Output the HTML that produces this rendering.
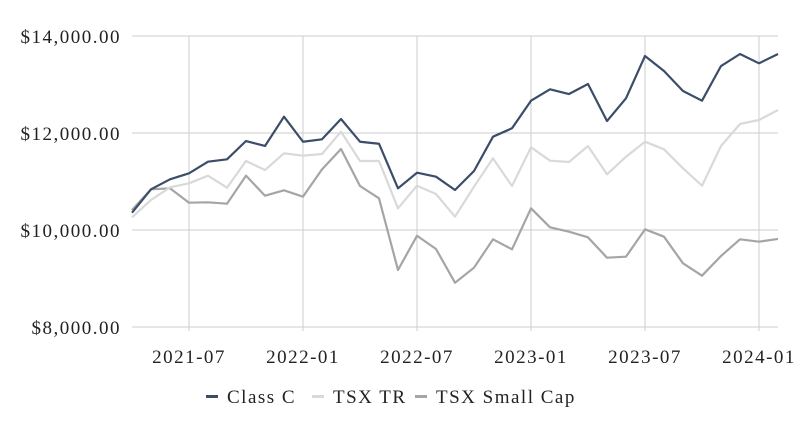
<!DOCTYPE html>
<html><head><meta charset="utf-8"><style>
html,body{margin:0;padding:0;background:#fff;}
svg{display:block;font-family:"Liberation Serif",serif;}
svg text{letter-spacing:1.5px;}
</style></head><body>
<svg id="chart" width="800" height="432"></svg>
<script>
const months=["2021-04","2021-05","2021-06","2021-07","2021-08","2021-09","2021-10","2021-11","2021-12","2022-01","2022-02","2022-03","2022-04","2022-05","2022-06","2022-07","2022-08","2022-09","2022-10","2022-11","2022-12","2023-01","2023-02","2023-03","2023-04","2023-05","2023-06","2023-07","2023-08","2023-09","2023-10","2023-11","2023-12","2024-01","2024-02"];
const classC=[10356,10839,11045,11169,11408,11458,11835,11732,12336,11820,11870,12289,11820,11779,10860,11181,11099,10825,11216,11924,12097,12666,12901,12804,13010,12247,12715,13588,13278,12866,12666,13381,13629,13437,13629];
const tsxTR=[10262,10619,10880,10963,11120,10872,11423,11237,11581,11532,11567,12027,11423,11423,10447,10913,10742,10274,10893,11478,10907,11705,11429,11402,11732,11148,11511,11821,11664,11272,10913,11732,12186,12268,12474];
const tsxSmall=[10412,10839,10860,10563,10571,10542,11120,10707,10818,10687,11251,11670,10907,10653,9175,9882,9608,8913,9223,9808,9602,10447,10056,9965,9849,9429,9450,10014,9862,9313,9058,9464,9808,9759,9815];
const yTicks=[8000,10000,12000,14000];
const xTicks=["2021-07","2022-01","2022-07","2023-01","2023-07","2024-01"];
const seriesNames=["Class C","TSX TR","TSX Small Cap"];
const NS="http://www.w3.org/2000/svg";
const svg=document.getElementById("chart");
const X0=132,X1=778,Y0=327,Y1=36,VMIN=8000,VMAX=14000;
function xs(i){return X0+(X1-X0)*i/(months.length-1);}
function ys(v){return Y0-(v-VMIN)/(VMAX-VMIN)*(Y0-Y1);}
function mk(t,a){const e=document.createElementNS(NS,t);for(const k in a)e.setAttribute(k,a[k]);svg.appendChild(e);return e;}
yTicks.forEach(v=>{
  const l=mk("line",{x1:X0,x2:X1,y1:ys(v),y2:ys(v),stroke:"#cccccc","stroke-width":1});
  
  
  const t=mk("text",{x:121,y:ys(v)+7,"text-anchor":"end","font-size":"19",fill:"#222"});
  t.textContent="$"+v.toLocaleString("en-US")+".00";
  
  
});
xTicks.forEach(m=>{
  const i=months.indexOf(m);
  const l=mk("line",{x1:xs(i),x2:xs(i),y1:Y1,y2:Y0+4,stroke:"#cccccc","stroke-width":1});
  
  
  const t=mk("text",{x:xs(i),y:363,"text-anchor":"middle","font-size":"19",fill:"#222"});
  t.textContent=m;
  
  
});
const colors=["#3b4d69","#d9d9d9","#a5a5a5"];
const data=[classC,tsxTR,tsxSmall];
[2,1,0].forEach(s=>{
  const p=mk("polyline",{points:data[s].map((v,i)=>xs(i)+","+ys(v)).join(" "),fill:"none",stroke:colors[s],"stroke-width":2.2,"stroke-linejoin":"round"});
  
  
});
const legX=[206,312,415];
seriesNames.forEach((n,s)=>{
  const r=mk("rect",{x:legX[s],y:395,width:12,height:3,fill:colors[s]});
  
  
  const t=mk("text",{x:legX[s]+21,y:403,"font-size":"19",fill:"#222"});
  t.textContent=n;
  
  
});
</script>
</body></html>
